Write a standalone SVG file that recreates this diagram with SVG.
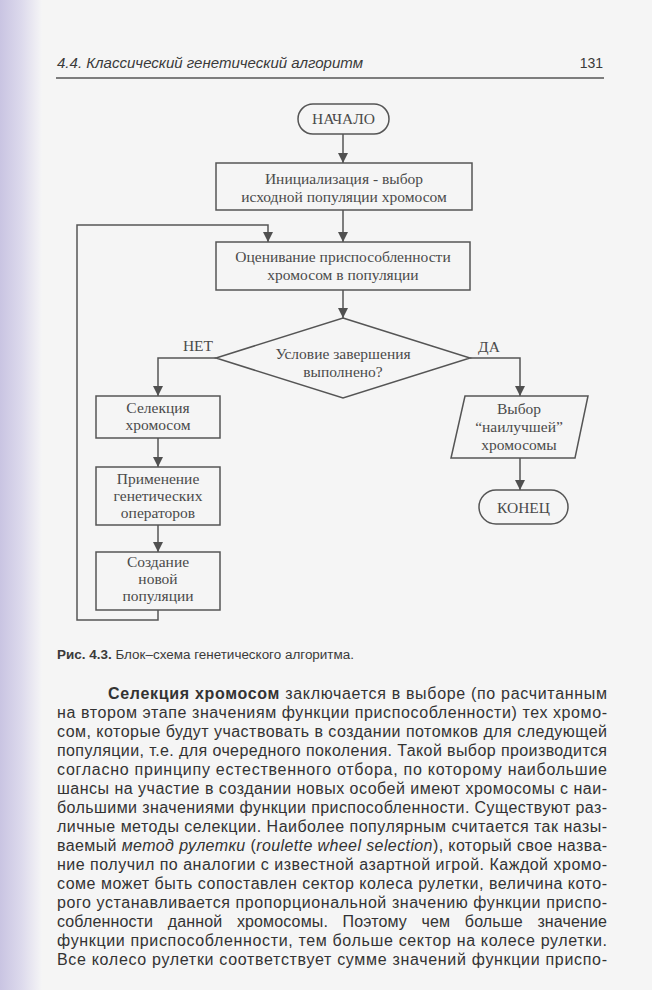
<svg xmlns="http://www.w3.org/2000/svg" width="652" height="990" viewBox="0 0 652 990">
<defs>
<linearGradient id="edge" x1="0" y1="0" x2="1" y2="0">
<stop offset="0" stop-color="#c9c4e2"/>
<stop offset="0.5" stop-color="#dcd9ec"/>
<stop offset="1" stop-color="#f5f5f6"/>
</linearGradient>
<marker id="arr" viewBox="0 0 10 10" refX="10" refY="5" markerWidth="10" markerHeight="10" markerUnits="userSpaceOnUse" orient="auto">
<path d="M0,0 L10,5 L0,10 z" fill="#505050"/>
</marker>
<style>
.shape{fill:none;stroke:#555;stroke-width:1.5}
.conn{fill:none;stroke:#555;stroke-width:1.5}
.dt{font-family:"Liberation Serif","Times New Roman",serif;font-size:15.5px;fill:#4a4a4a;text-anchor:middle}
.hdr{font-family:"Liberation Sans",Arial,sans-serif;font-size:14px;fill:#3a3a3a;font-style:italic}
.pg{font-family:"Liberation Sans",Arial,sans-serif;font-size:14px;fill:#3a3a3a}
.cap{font-family:"Liberation Sans",Arial,sans-serif;font-size:12px;fill:#3a3a3a}
.body{font-family:"Liberation Sans",Arial,sans-serif;font-size:16px;fill:#333}
</style>
</defs>
<rect x="0" y="0" width="652" height="990" fill="#f5f5f5"/>
<rect x="0" y="0" width="42" height="990" fill="url(#edge)"/>

<g id="header">
<text class="hdr" x="57" y="68" textLength="306" lengthAdjust="spacingAndGlyphs">4.4. Классический генетический алгоритм</text>
<text class="pg" x="603" y="68" text-anchor="end">131</text>
<line x1="56" y1="78" x2="604" y2="78" stroke="#555" stroke-width="1.3"/>
</g>

<g id="connectors">
<line class="conn" x1="343" y1="134" x2="343" y2="163" marker-end="url(#arr)"/>
<line class="conn" x1="343" y1="210" x2="343" y2="242" marker-end="url(#arr)"/>
<path class="conn" d="M158,610 V620 H77 V225 H268 V242" marker-end="url(#arr)"/>
<line class="conn" x1="343" y1="290" x2="343" y2="318" marker-end="url(#arr)"/>
<path class="conn" d="M216,358 H158 V396" marker-end="url(#arr)"/>
<path class="conn" d="M470,358 H520 V396" marker-end="url(#arr)"/>
<line class="conn" x1="158" y1="438" x2="158" y2="467" marker-end="url(#arr)"/>
<line class="conn" x1="158" y1="525" x2="158" y2="552" marker-end="url(#arr)"/>
<line class="conn" x1="520" y1="458" x2="520" y2="490" marker-end="url(#arr)"/>
<text class="dt" x="198" y="351">НЕТ</text>
<text class="dt" x="489" y="352">ДА</text>
</g>

<g id="start">
<rect class="shape" x="298" y="104" width="91" height="30" rx="15"/>
<text class="dt" x="343.5" y="124">НАЧАЛО</text>
</g>

<g id="init">
<rect class="shape" x="216" y="163" width="256" height="47"/>
<text class="dt" x="344" y="184">Инициализация - выбор</text>
<text class="dt" x="344" y="202">исходной популяции хромосом</text>
</g>

<g id="evaluate">
<rect class="shape" x="216" y="242" width="254" height="48"/>
<text class="dt" x="343" y="262">Оценивание приспособленности</text>
<text class="dt" x="343" y="280">хромосом в популяции</text>
</g>

<g id="condition">
<polygon class="shape" points="343,318 470,358 343,398 216,358"/>
<text class="dt" x="343" y="359">Условие завершения</text>
<text class="dt" x="343" y="377">выполнено?</text>
</g>

<g id="selection">
<rect class="shape" x="96" y="396" width="124" height="42"/>
<text class="dt" x="158" y="413">Селекция</text>
<text class="dt" x="158" y="430">хромосом</text>
</g>

<g id="operators">
<rect class="shape" x="96" y="467" width="124" height="58"/>
<text class="dt" x="158" y="484">Применение</text>
<text class="dt" x="158" y="501">генетических</text>
<text class="dt" x="158" y="518">операторов</text>
</g>

<g id="newpop">
<rect class="shape" x="96" y="552" width="124" height="58"/>
<text class="dt" x="158" y="567">Создание</text>
<text class="dt" x="158" y="584">новой</text>
<text class="dt" x="158" y="601">популяции</text>
</g>

<g id="best">
<polygon class="shape" points="465,396 588,396 575,458 451,458"/>
<text class="dt" x="519" y="414">Выбор</text>
<text class="dt" x="519" y="432">“наилучшей”</text>
<text class="dt" x="519" y="450">хромосомы</text>
</g>

<g id="end">
<rect class="shape" x="479" y="490" width="89" height="34" rx="17"/>
<text class="dt" x="523.5" y="513">КОНЕЦ</text>
</g>

<g id="caption">
<text class="cap" x="57" y="659" textLength="297" lengthAdjust="spacingAndGlyphs"><tspan font-weight="bold">Рис. 4.3.</tspan> Блок–схема генетического алгоритма.</text>
</g>

<g id="bodytext">
<text class="body" x="108" y="699" textLength="499" lengthAdjust="spacing"><tspan font-weight="bold">Селекция хромосом</tspan> заключается в выборе (по расчитанным</text>
<text class="body" x="57" y="718" textLength="550" lengthAdjust="spacing">на втором этапе значениям функции приспособленности) тех хромо-</text>
<text class="body" x="57" y="737" textLength="550" lengthAdjust="spacing">сом, которые будут участвовать в создании потомков для следующей</text>
<text class="body" x="57" y="756" textLength="550" lengthAdjust="spacing">популяции, т.е. для очередного поколения. Такой выбор производится</text>
<text class="body" x="57" y="775" textLength="550" lengthAdjust="spacing">согласно принципу естественного отбора, по которому наибольшие</text>
<text class="body" x="57" y="794" textLength="550" lengthAdjust="spacing">шансы на участие в создании новых особей имеют хромосомы с наи-</text>
<text class="body" x="57" y="813" textLength="550" lengthAdjust="spacing">большими значениями функции приспособленности. Существуют раз-</text>
<text class="body" x="57" y="832" textLength="550" lengthAdjust="spacing">личные методы селекции. Наиболее популярным считается так назы-</text>
<text class="body" x="57" y="851" textLength="550" lengthAdjust="spacing">ваемый <tspan font-style="italic">метод рулетки</tspan> (<tspan font-style="italic">roulette wheel selection</tspan>), который свое назва-</text>
<text class="body" x="57" y="870" textLength="550" lengthAdjust="spacing">ние получил по аналогии с известной азартной игрой. Каждой хромо-</text>
<text class="body" x="57" y="889" textLength="550" lengthAdjust="spacing">соме может быть сопоставлен сектор колеса рулетки, величина кото-</text>
<text class="body" x="57" y="908" textLength="550" lengthAdjust="spacing">рого устанавливается пропорциональной значению функции приспо-</text>
<text class="body" x="57" y="927" textLength="550" lengthAdjust="spacing" word-spacing="10">собленности данной хромосомы. Поэтому чем больше значение</text>
<text class="body" x="57" y="946" textLength="550" lengthAdjust="spacing">функции приспособленности, тем больше сектор на колесе рулетки.</text>
<text class="body" x="57" y="965" textLength="550" lengthAdjust="spacing">Все колесо рулетки соответствует сумме значений функции приспо-</text>
</g>
</svg>
